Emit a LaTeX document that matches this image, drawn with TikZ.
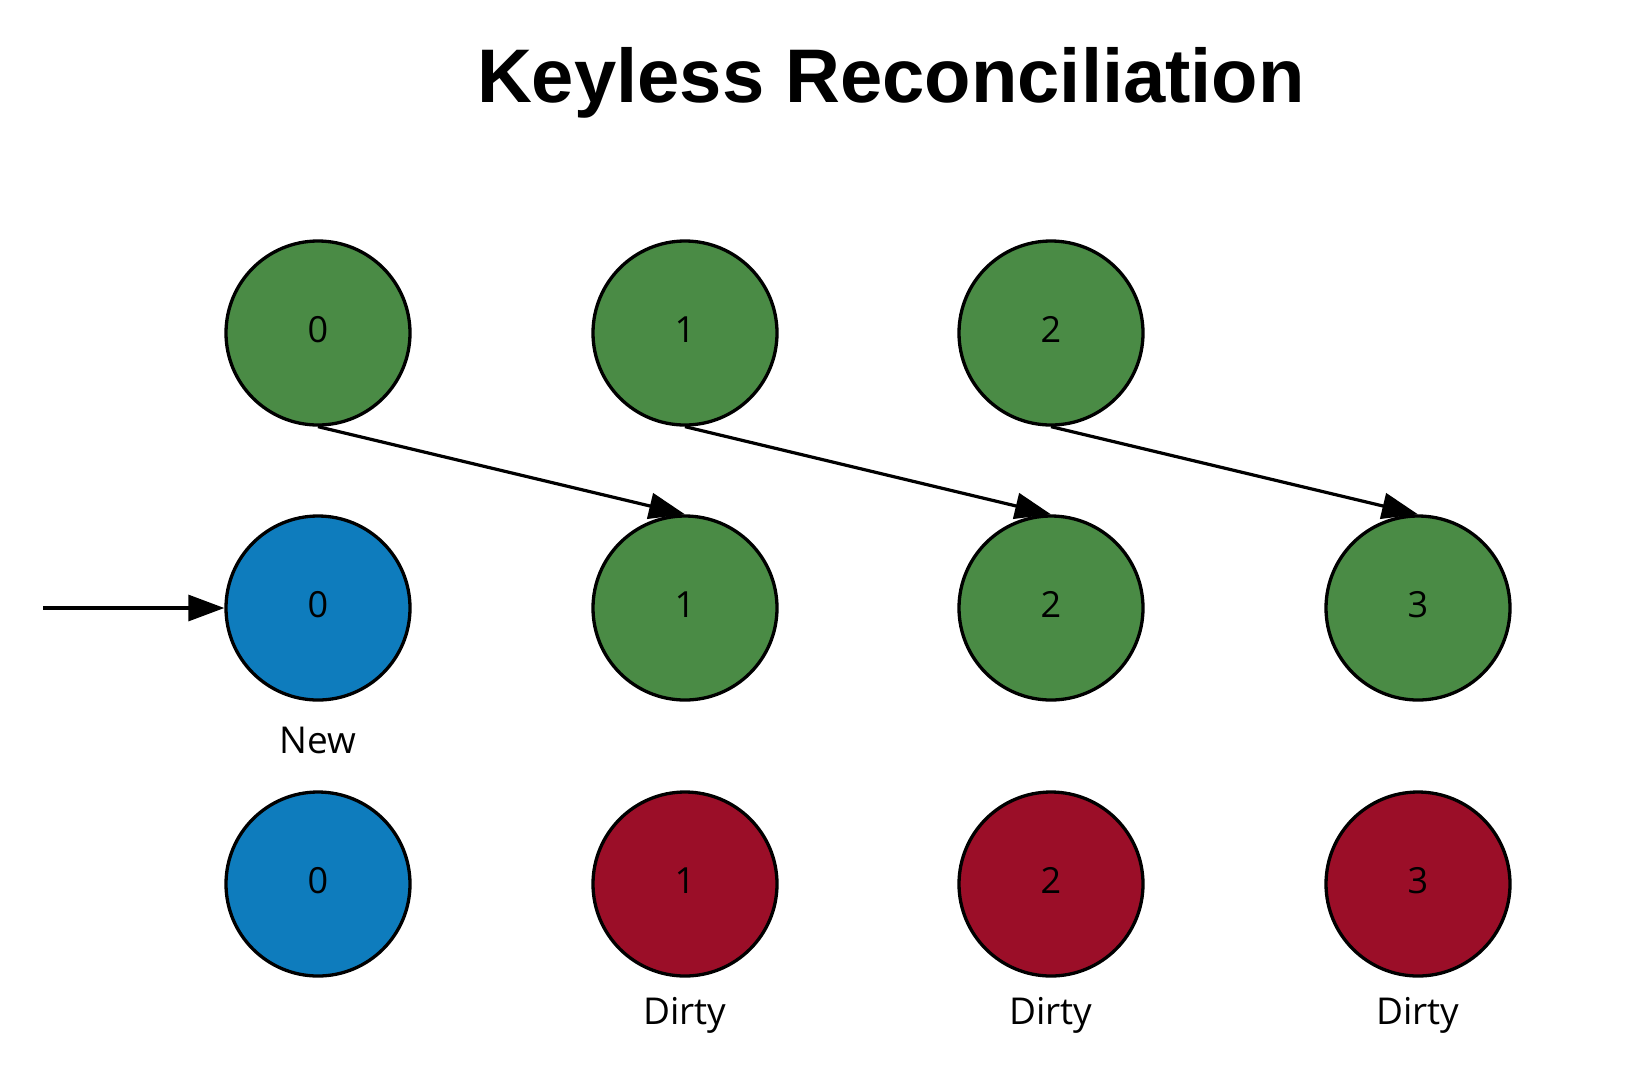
\documentclass[tikz,border=0pt]{standalone}
\usepackage{fontspec}
\setmainfont{Open Sans}
\newfontfamily\titlefont{Liberation Sans}
\usepackage{tikz}
\usetikzlibrary{arrows.meta}
\usepackage{xcolor}
\definecolor{okgreen}{RGB}{74,139,69}
\definecolor{newblue}{RGB}{14,124,189}
\definecolor{dirtyred}{RGB}{155,14,40}

\begin{document}
\begin{tikzpicture}[x=1pt, y=1pt,
		ball/.style={circle, draw=black, line width=3.3pt, minimum size=184pt, inner sep=0pt, text height=26pt, text depth=8pt, font=\fontsize{36}{42}\selectfont},
		oldball/.style={ball, fill=okgreen},
		newball/.style={ball, fill=newblue},
		dirtyball/.style={ball, fill=dirtyred},
		tag/.style={font=\fontsize{37}{44}\selectfont},
		move/.style={line width=3.2pt, -{Triangle[length=36pt, width=26pt]}}]
						\useasboundingbox (0, 0) rectangle (1640, -1080);
						\node[font=\titlefont\bfseries\fontsize{76}{82}\selectfont] (title) at (891, -83) {Keyless Reconciliation};
						% old list
						\node[oldball] (a0) at (318, -333) {0};
						\node[oldball] (a1) at (685, -333) {1};
						\node[oldball] (a2) at (1051, -333) {2};
						% new list
						\node[newball] (b0) at (318, -608) {0};
						\node[oldball] (b1) at (685, -608) {1};
						\node[oldball] (b2) at (1051, -608) {2};
						\node[oldball] (b3) at (1418, -608) {3};
						\node[tag] (lnew) at (318, -740) {New};
						% result
						\node[newball] (c0) at (318, -884) {0};
						\node[dirtyball] (c1) at (685, -884) {1};
						\node[dirtyball] (c2) at (1051, -884) {2};
						\node[dirtyball] (c3) at (1418, -884) {3};
						\node[tag] (ld1) at (685, -1015) {Dirty};
						\node[tag] (ld2) at (1051, -1015) {Dirty};
						\node[tag] (ld3) at (1418, -1015) {Dirty};
						\coordinate (in) at (43, -608);
						\draw[move] (in) -- (b0.west);
						\draw[move] (a0.south) -- (b1.north);
						\draw[move] (a1.south) -- (b2.north);
						\draw[move] (a2.south) -- (b3.north);
					\end{tikzpicture}
\end{document}
